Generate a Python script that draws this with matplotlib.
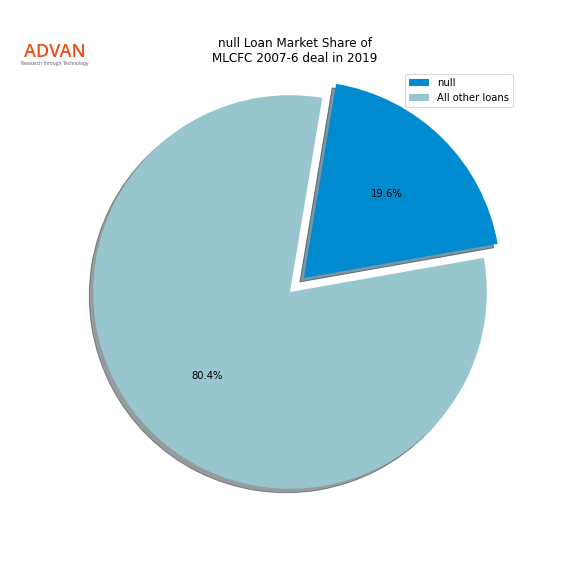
import matplotlib
matplotlib.use("Agg")
import matplotlib.pyplot as plt

labels = ["null", "All other loans"]
shares = [19.6, 80.4]
colors = ["#008bd0", "#98c6cf"]
explode = [0.1, 0]

fig = plt.figure(figsize=(8, 8), dpi=72)
ax = fig.add_axes([44/576, 38/576, 492/576, 492/576])
ax.pie(shares, explode=explode, colors=colors, autopct="%1.1f%%",
       shadow=True, startangle=10)
ax.set_aspect("equal")
fig.text(295/576, 1 - 51/576, "null Loan Market Share of\nMLCFC 2007-6 deal in 2019",
         fontsize=12, ha="center", va="center", multialignment="center")
ax.legend(labels, loc="upper right", bbox_to_anchor=(518/576, 1 - 69/576),
          bbox_transform=fig.transFigure, fontsize=10)

fig.text(55/576, 1 - 52/576, "ADVAN", color="#e8501c", fontsize=18,
         ha="center", va="center", family="Open Sans", weight="semibold")
fig.text(55/576, 1 - 63/576, "Research through Technology", color="#666666",
         fontsize=4.6, ha="center", va="center")

fig.savefig("out.png", dpi=72)
